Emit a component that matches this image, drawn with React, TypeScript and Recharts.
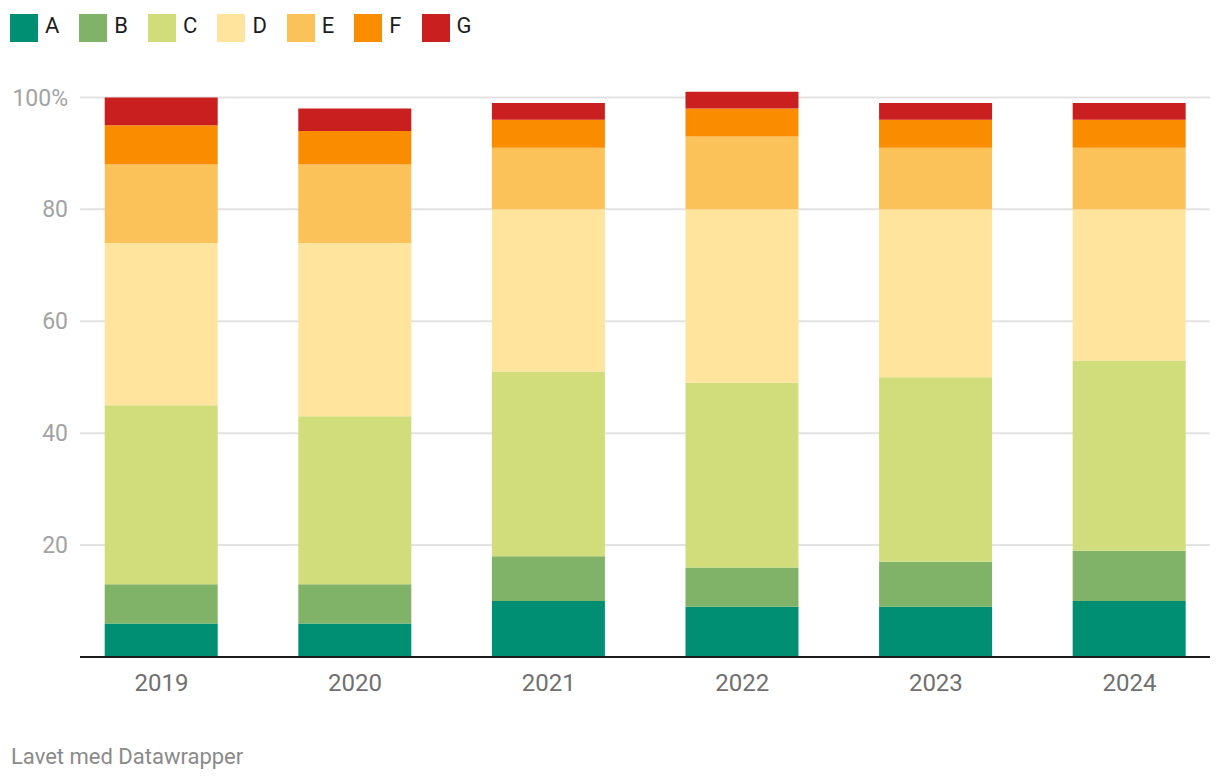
import React from 'react';
import { BarChart, Bar, XAxis, YAxis, CartesianGrid } from 'recharts';

const years = ['2019', '2020', '2021', '2022', '2023', '2024'];

const seriesA = [6, 6, 10, 9, 9, 10];
const seriesB = [7, 7, 8, 7, 8, 9];
const seriesC = [32, 30, 33, 33, 33, 34];
const seriesD = [29, 31, 29, 31, 30, 27];
const seriesE = [14, 14, 11, 13, 11, 11];
const seriesF = [7, 6, 5, 5, 5, 5];
const seriesG = [5, 4, 3, 3, 3, 3];

const yTicks = [0, 20, 40, 60, 80, 100];
const gridValues = [20, 40, 60, 80, 100];

const seriesKeys = ['A', 'B', 'C', 'D', 'E', 'F', 'G'];
const colors: Record<string, string> = {
  A: '#008f72',
  B: '#80b268',
  C: '#d1dc7b',
  D: '#fee49c',
  E: '#fac258',
  F: '#fa8c00',
  G: '#c91f1f',
};

const data = years.map((year, i) => ({
  x: i,
  year,
  A: seriesA[i],
  B: seriesB[i],
  C: seriesC[i],
  D: seriesD[i],
  E: seriesE[i],
  F: seriesF[i],
  G: seriesG[i],
}));

const FONT = 'Roboto, "Noto Sans", sans-serif';

function LegendRow() {
  return (
    <div style={{ position: 'absolute', left: 10, top: 14, display: 'flex' }}>
      {seriesKeys.map((k) => (
        <div key={k} style={{ display: 'flex', marginRight: 20, position: 'relative' }}>
          <div style={{ width: 28, height: 28, background: colors[k] }} />
          <div
            style={{
              marginLeft: 7,
              fontSize: 22,
              color: '#1d1d1d',
              position: 'relative',
              top: -1.5,
            }}
          >
            {k}
          </div>
        </div>
      ))}
    </div>
  );
}

export default function App() {
  return (
    <div
      style={{
        position: 'absolute',
        left: 0,
        top: 0,
        width: 1220,
        height: 780,
        background: '#fff',
        fontFamily: FONT,
      }}
    >
      <LegendRow />
      <div style={{ position: 'absolute', left: 0, top: 0 }}>
        <BarChart
          width={1220}
          height={700}
          data={data}
          margin={{ top: 75, right: 10, left: 0, bottom: 3 }}
        >
          <CartesianGrid
            vertical={false}
            horizontalValues={gridValues}
            stroke="#e3e3e3"
            strokeWidth={2}
          />
          <XAxis
            dataKey="x"
            type="number"
            domain={[-0.421, 5.416]}
            ticks={[0, 1, 2, 3, 4, 5]}
            tickFormatter={(v: number) => years[v]}
            axisLine={{ stroke: '#1d1d1d', strokeWidth: 2 }}
            tickLine={false}
            tickSize={0}
            tickMargin={17}
            height={40}
            tick={{ fill: '#707070', fontSize: 24, fontFamily: FONT }}
          />
          <YAxis
            type="number"
            domain={[0, 104]}
            ticks={yTicks}
            allowDataOverflow
            tickFormatter={(v: number) => (v === 0 ? '' : v === 100 ? '100%' : String(v))}
            axisLine={false}
            tickLine={false}
            tickSize={0}
            tickMargin={12}
            width={80}
            tick={{ fill: '#a3a3a3', fontSize: 23, fontFamily: FONT }}
          />
          {seriesKeys.map((k) => (
            <Bar
              key={k}
              dataKey={k}
              stackId="s"
              fill={colors[k]}
              barSize={113}
              isAnimationActive={false}
            />
          ))}
        </BarChart>
      </div>
      <div
        style={{
          position: 'absolute',
          left: 11,
          top: 743.5,
          fontSize: 22,
          color: '#8a8a8a',
        }}
      >
        Lavet med Datawrapper
      </div>
    </div>
  );
}
